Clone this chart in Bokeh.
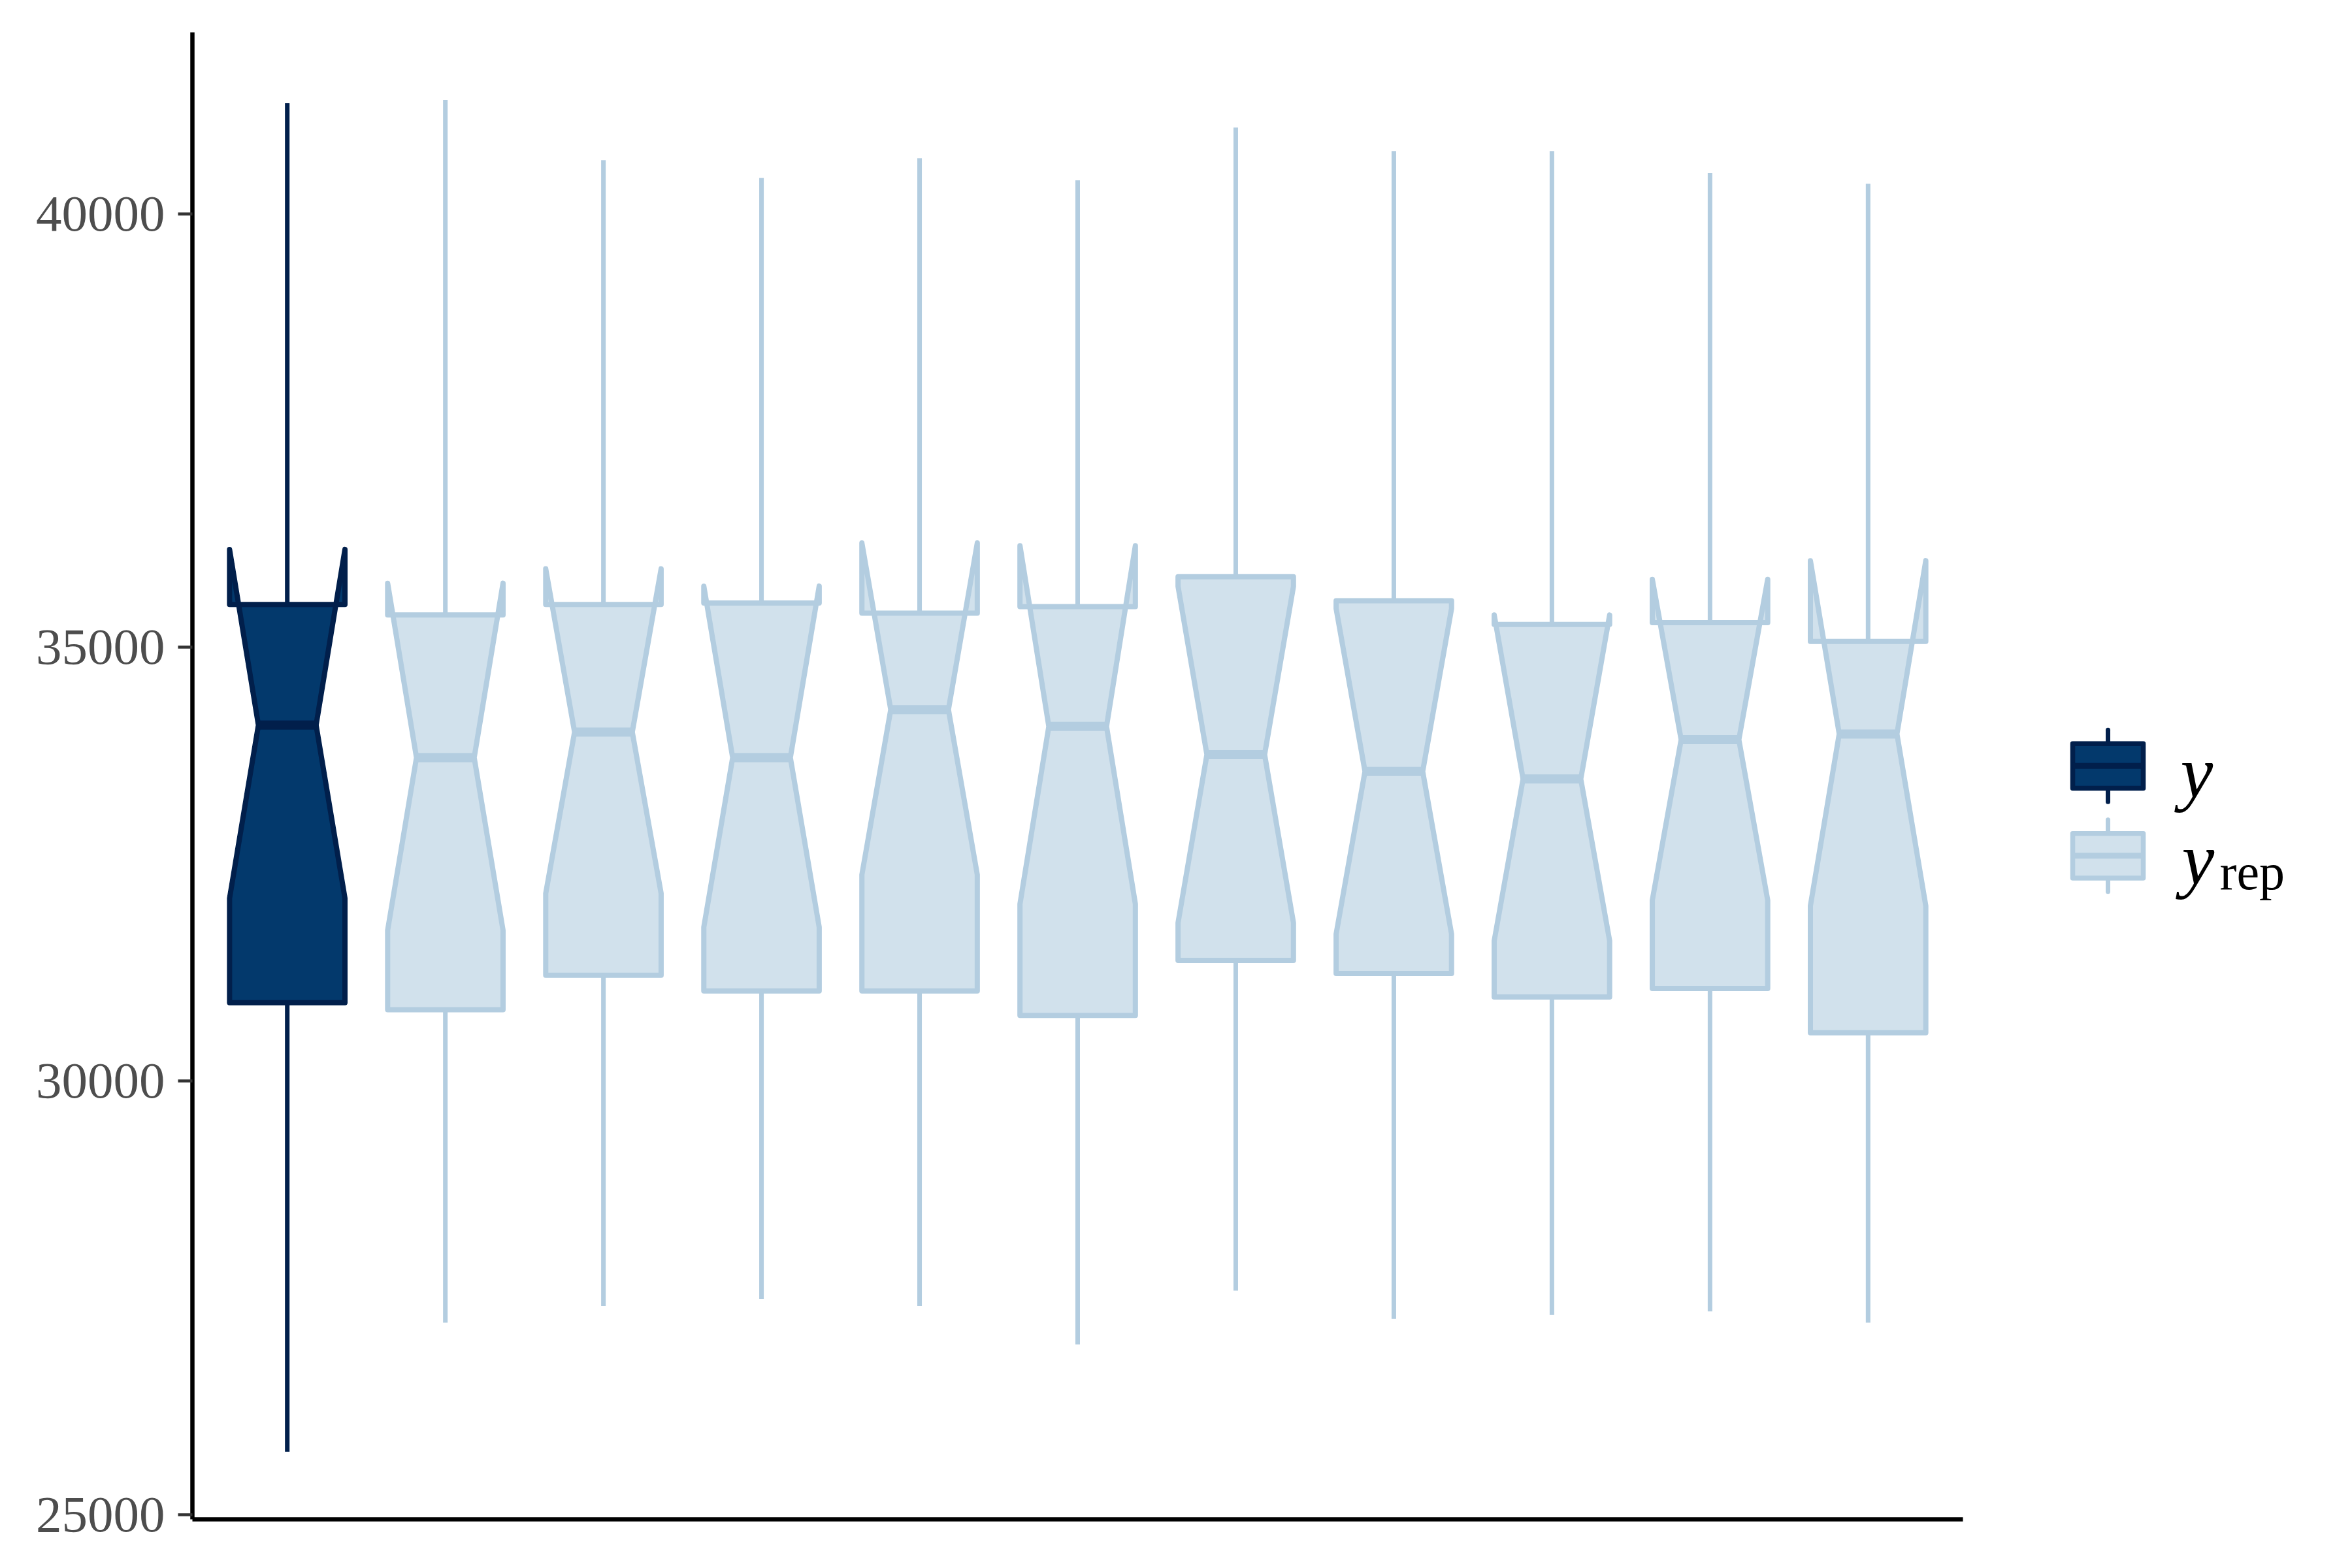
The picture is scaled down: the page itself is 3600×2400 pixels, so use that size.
from bokeh.plotting import figure
from bokeh.models import Range1d, FixedTicker, ColumnDataSource
from bokeh.layouts import row
from bokeh.embed import file_html
from bokeh.resources import INLINE
from bokeh.core.properties import value

# ---- data ----
groups = ["y", "yrep", "yrep", "yrep", "yrep", "yrep", "yrep", "yrep", "yrep", "yrep", "yrep"]
whisker_hi = [41276, 41314, 40618, 40415, 40641, 40387, 40995, 40724, 40724, 40470, 40347]
q3 = [35495, 35374, 35495, 35512, 35395, 35470, 35815, 35538, 35266, 35287, 35070]
median = [34105, 33729, 34024, 33729, 34283, 34090, 33764, 33570, 33483, 33937, 34002]
q1 = [30904, 30822, 31220, 31038, 31038, 30757, 31392, 31241, 30970, 31068, 30557]
whisker_lo = [25725, 27213, 27406, 27489, 27406, 26962, 27583, 27256, 27301, 27344, 27213]
notch_lo = [32108, 31738, 32163, 31774, 32379, 32041, 31825, 31695, 31618, 32085, 32020]
notch_hi = [36131, 35741, 35907, 35707, 36205, 36174, 35703, 35448, 35374, 35785, 36001]
y_ticks = [25000, 30000, 35000, 40000]

FILL = {"y": "#03396c", "yrep": "#d1e1ec"}
LINE = {"y": "#011f4b", "yrep": "#b3cde0"}
FONT = "Liberation Serif"

n = len(groups)
xpos = list(range(1, n + 1))
bw = 0.73
ind = 0.25 * bw

xs, ys = [], []
for i in range(n):
    x0, x1 = xpos[i] - bw / 2, xpos[i] + bw / 2
    xs.append([x0, x0, x0 + ind, x0, x0, x1, x1, x1 - ind, x1, x1, x0])
    ys.append([q3[i], notch_hi[i], median[i], notch_lo[i], q1[i],
               q1[i], notch_lo[i], median[i], notch_hi[i], q3[i], q3[i]])

src = ColumnDataSource(dict(
    x=xpos, hi=whisker_hi, q3=q3, med=median, q1=q1, lo=whisker_lo,
    mx0=[x - bw / 2 + ind for x in xpos], mx1=[x + bw / 2 - ind for x in xpos],
    xs=xs, ys=ys,
    fill=[FILL[g] for g in groups], line=[LINE[g] for g in groups],
))

lo_all = min(whisker_lo)
hi_all = max(whisker_hi)
pad = 0.05 * (hi_all - lo_all)

W_MAIN = 3100
p = figure(width=W_MAIN, height=2400, output_backend="svg", toolbar_location=None,
           x_range=Range1d(0.4, n + 0.6), y_range=Range1d(lo_all - pad, hi_all + pad),
           min_border_left=294, min_border_right=W_MAIN - 3004,
           min_border_top=49, min_border_bottom=75)
p.outline_line_color = None
p.grid.visible = False
p.background_fill_color = "white"
p.border_fill_color = "white"

LW = 8
p.segment(x0="x", y0="q3", x1="x", y1="hi", line_color="line", line_width=7, source=src)
p.segment(x0="x", y0="q1", x1="x", y1="lo", line_color="line", line_width=7, source=src)
p.patches(xs="xs", ys="ys", fill_color="fill", line_color="line", line_width=LW,
          line_join="round", source=src)
p.segment(x0="mx0", y0="med", x1="mx1", y1="med", line_color="line", line_width=14,
          source=src)

yax = p.yaxis[0]
yax.ticker = FixedTicker(ticks=y_ticks)
yax.minor_tick_line_color = None
yax.major_tick_in = 0
yax.major_tick_out = 22
yax.major_tick_line_width = 4.5
yax.major_tick_line_color = "#333333"
yax.axis_line_width = 6.5
yax.axis_line_color = "black"
yax.major_label_text_font = FONT
yax.major_label_text_font_size = "79px"
yax.major_label_text_color = "#4d4d4d"
yax.major_label_standoff = 20

xax = p.xaxis[0]
xax.ticker = FixedTicker(ticks=[])
xax.major_tick_line_color = None
xax.minor_tick_line_color = None
xax.major_label_text_font_size = "0px"
xax.axis_line_width = 6.5
xax.axis_line_color = "black"

# ---- legend panel ----
leg = figure(width=3600 - W_MAIN, height=2400, output_backend="svg", toolbar_location=None,
             x_range=Range1d(W_MAIN, 3600), y_range=Range1d(2400, 0),
             x_axis_type=None, y_axis_type=None,
             min_border_left=0, min_border_right=0, min_border_top=0, min_border_bottom=0)
leg.outline_line_color = None
leg.grid.visible = False

key_groups = ["y", "yrep"]
key_cy = [1184, 1329]
kx0, kx1, kxc = 3172, 3280, 3226
for g, cy in zip(key_groups, key_cy):
    leg.segment(x0=[kxc, kxc], y0=[cy - 58, cy + 36], x1=[kxc, kxc], y1=[cy - 36, cy + 58],
                line_color=LINE[g], line_width=7, line_cap="round")
    leg.quad(left=[kx0], right=[kx1], top=[cy - 36], bottom=[cy + 36],
             fill_color=FILL[g], line_color=LINE[g], line_width=7.5, line_join="round")
    leg.segment(x0=[kx0], y0=[cy], x1=[kx1], y1=[cy], line_color=LINE[g], line_width=9)

leg.text(x=[3337, 3339], y=[1194, 1334], text=["y", "y"], text_font=value(FONT),
         text_font_style="italic", text_font_size="112px", text_color="black",
         text_baseline="alphabetic", text_align="left")
leg.text(x=[3397], y=[1355], text=["rep"], text_font=value(FONT),
         text_font_size="78px", text_color="black",
         text_baseline="alphabetic", text_align="left")

layout = row(p, leg)
open("out.html", "w").write(file_html(layout, INLINE))
